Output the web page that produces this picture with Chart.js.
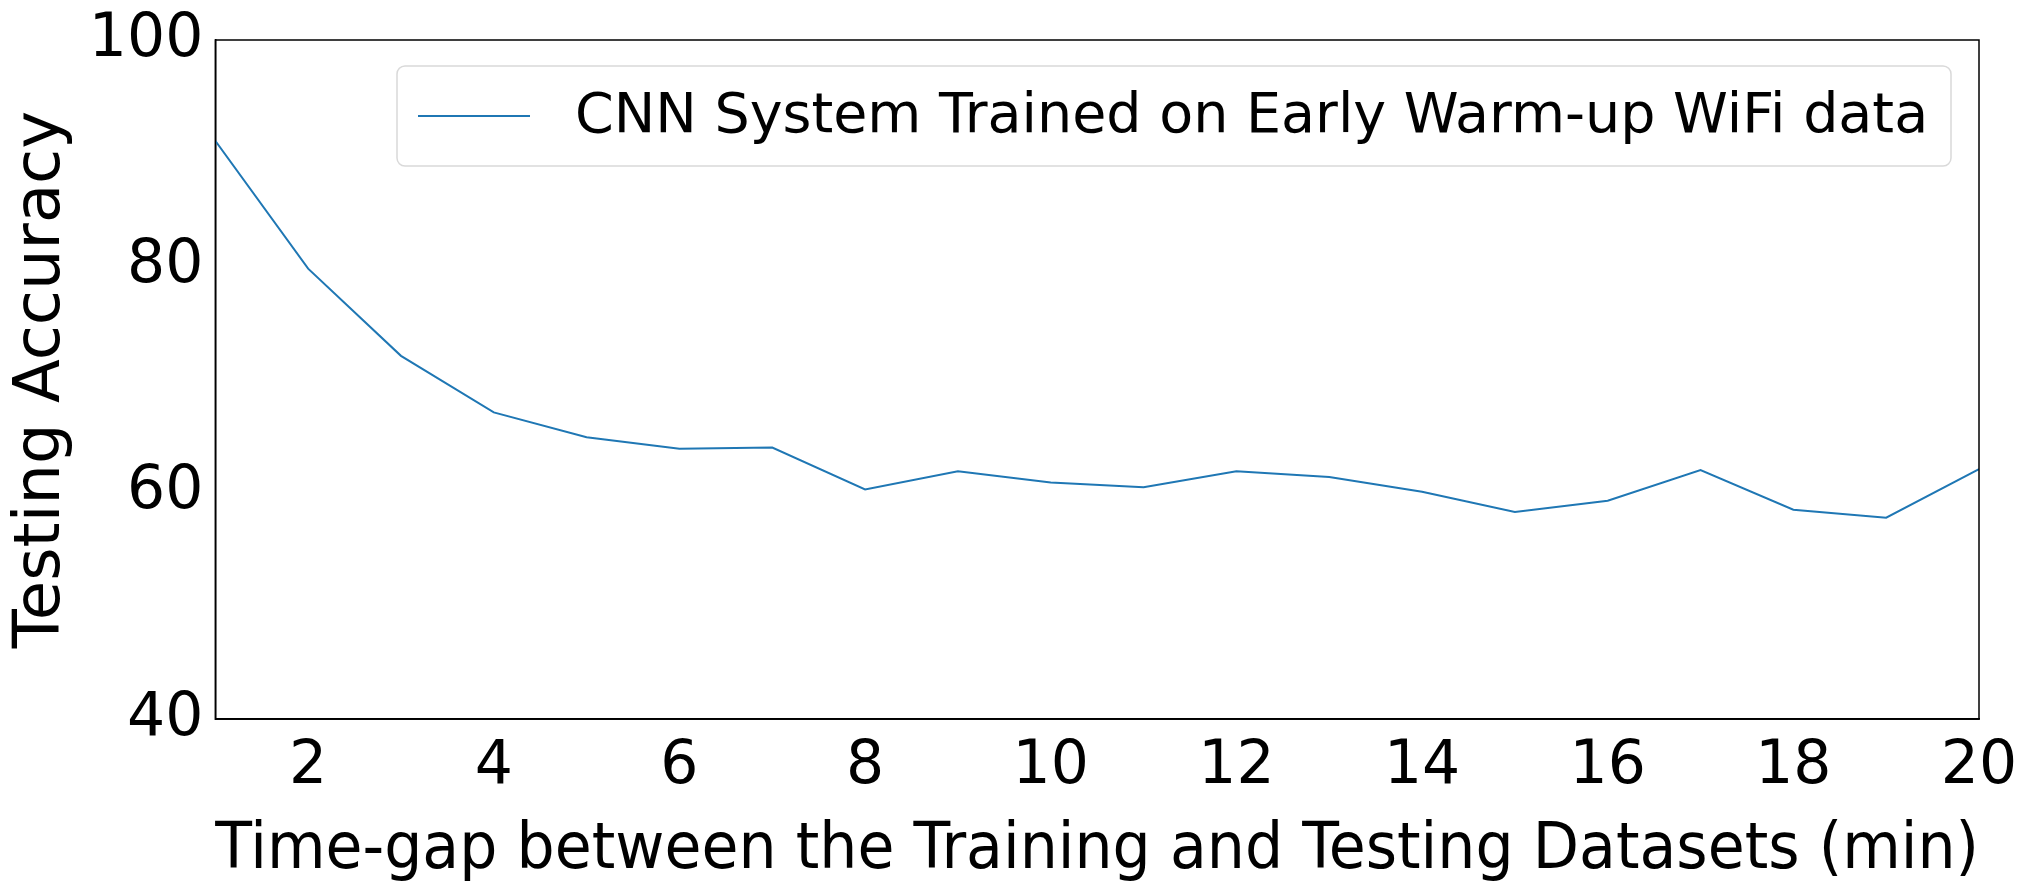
<!DOCTYPE html>
<html>
<head>
<meta charset="utf-8">
<script src="https://cdn.jsdelivr.net/npm/chart.js@4"></script>
<style>
  html, body { margin: 0; background: #fff; }
  #wrap { width: 2026px; height: 892px; }
</style>
</head>
<body>
<div id="wrap"><canvas id="chart"></canvas></div>
<script>
const timeGap = [1, 2, 3, 4, 5, 6, 7, 8, 9, 10, 11, 12, 13, 14, 15, 16, 17, 18, 19, 20];
const accuracy = [91.1, 79.8, 72.1, 67.1, 64.9, 63.9, 64.0, 60.3, 61.9, 60.9, 60.5, 61.9, 61.4, 60.1, 58.3, 59.3, 62.0, 58.5, 57.8, 62.1];
const xTicks = [2, 4, 6, 8, 10, 12, 14, 16, 18, 20];
const yTicks = [40, 60, 80, 100];
const seriesLabel = 'CNN System Trained on Early Warm-up WiFi data';

const FONT = 'DejaVu Sans';
const LINE = '#1f77b4';

// legend drawn inside the plot area, like matplotlib's "upper right"
const insideLegend = {
    id: 'insideLegend',
    afterDraw(chart) {
        const ctx = chart.ctx;
        const area = chart.chartArea;
        const w = 1554, h = 100;
        const x = area.right - 28 - w, y = area.top + 26;
        ctx.save();
        ctx.fillStyle = 'rgba(255,255,255,0.8)';
        ctx.strokeStyle = '#d9d9d9';
        ctx.lineWidth = 1.5;
        ctx.beginPath();
        ctx.roundRect(x, y, w, h, 8);
        ctx.fill();
        ctx.stroke();
        ctx.strokeStyle = LINE;
        ctx.lineWidth = 2;
        ctx.beginPath();
        ctx.moveTo(x + 21, y + h / 2);
        ctx.lineTo(x + 133, y + h / 2);
        ctx.stroke();
        ctx.fillStyle = '#000';
        ctx.font = '55.5px "' + FONT + '"';
        ctx.textBaseline = 'middle';
        ctx.fillText(seriesLabel, x + 178, y + h / 2 + 2);
        ctx.restore();
    },
};

new Chart(document.getElementById('chart').getContext('2d'), {
    type: 'line',
    data: {
        datasets: [
            {
                label: seriesLabel,
                data: timeGap.map((t, i) => ({ x: t, y: accuracy[i] })),
                borderColor: LINE,
                borderWidth: 2,
                pointRadius: 0,
                tension: 0,
                fill: false,
            },
        ],
    },
    options: {
        responsive: true,
        maintainAspectRatio: false,
        animation: false,
        layout: { padding: { top: 12, right: 47, bottom: 2, left: 4 } },
        plugins: { legend: { display: false }, tooltip: { enabled: false } },
        scales: {
            x: {
                type: 'linear',
                min: 1,
                max: 20,
                afterBuildTicks: (axis) => { axis.ticks = xTicks.map((v) => ({ value: v })); },
                grid: { display: false, drawTicks: true, tickLength: 8, tickColor: '#000' },
                border: { color: '#000', width: 1.5 },
                ticks: { color: '#000', font: { family: FONT, size: 60 }, maxRotation: 0, padding: 4 },
                title: {
                    display: true,
                    text: 'Time-gap between the Training and Testing Datasets (min)',
                    color: '#000',
                    font: { family: FONT, size: 64 },
                    padding: { top: 6, bottom: 0 },
                },
            },
            y: {
                min: 40,
                max: 100,
                afterBuildTicks: (axis) => { axis.ticks = yTicks.map((v) => ({ value: v })); },
                grid: { display: false, drawTicks: true, tickLength: 8, tickColor: '#000' },
                border: { color: '#000', width: 1.5 },
                ticks: { color: '#000', font: { family: FONT, size: 60 }, padding: 4 },
                title: {
                    display: true,
                    text: 'Testing Accuracy',
                    color: '#000',
                    font: { family: FONT, size: 64 },
                    padding: { top: 0, bottom: 4 },
                },
            },
        },
    },
    plugins: [
        insideLegend,
        {
            id: 'frame',
            afterDraw(chart) {
                const { ctx, chartArea: a } = chart;
                ctx.save();
                ctx.strokeStyle = '#000';
                ctx.lineWidth = 1.5;
                ctx.strokeRect(a.left, a.top, a.right - a.left, a.bottom - a.top);
                ctx.restore();
            },
        },
    ],
});
</script>
</body>
</html>
